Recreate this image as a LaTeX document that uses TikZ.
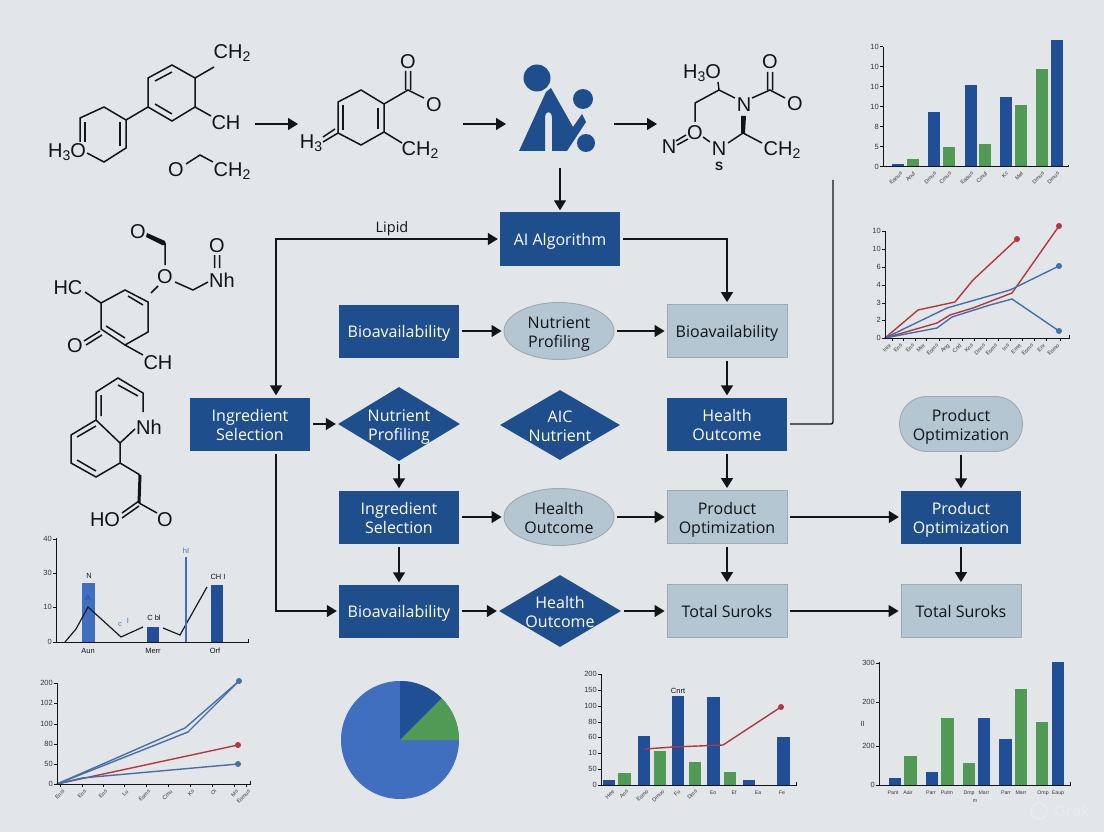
\documentclass[tikz,border=0pt]{standalone}
\usepackage{fontspec}
\setmainfont{Open Sans}
\newfontfamily\chem{Liberation Sans}
\usetikzlibrary{shapes.geometric,arrows.meta}
\definecolor{bgc}{HTML}{E2E6E8}
\definecolor{navy}{HTML}{1F4E8C}
\definecolor{pale}{HTML}{B4C6D2}
\definecolor{paleedge}{HTML}{9DA9B1}
\definecolor{barblue}{HTML}{204F98}
\definecolor{bargreen}{HTML}{519A55}
\definecolor{midblue}{HTML}{3F6FBE}
\definecolor{linered}{HTML}{B5363F}
\definecolor{lineblue}{HTML}{456FA8}
\definecolor{ink}{HTML}{111418}
\newcount\labc
\newcommand{\lab}[4][]{\global\advance\labc by 1 \node[inner sep=0pt,#1] (lab\the\labc) at (#2,#3) {#4};}
\newcommand{\subt}[1]{\raisebox{-.3ex}{\fontsize{14}{14}\selectfont #1}}
\newcommand{\mol}[3]{\lab[font=\chem\fontsize{20}{20}\selectfont,text=ink]{#1}{#2}{#3}}
\newcommand{\cbar}[5]{\fill[#5] (#1,#3) rectangle (#2,#4);}
\newcommand{\tk}[3]{\lab[anchor=north east,rotate=45,font=\chem\fontsize{5.5}{5.5}\selectfont,text=ink!85]{#1}{#2}{#3}}
\newcommand{\yl}[3]{\lab[anchor=east,font=\chem\fontsize{7.5}{7.5}\selectfont,text=ink!85]{#1}{#2}{#3}}
\newcommand{\tw}[2]{\raisebox{-0.5pt}[0pt][0pt]{\begin{tabular}{@{}c@{}}#1\\#2\end{tabular}}}
\tikzset{
  x=1pt,y=-1pt,
  flow text/.style={font=\fontsize{16}{19}\selectfont,execute at begin node={\rule{0pt}{19pt}},execute at end node=\strut},
  flowbox/.style={rectangle,minimum width=120pt,minimum height=53pt,inner sep=0pt,flow text},
  blue box/.style={flowbox,fill=navy,text=white},
  pale box/.style={flowbox,fill=pale,draw=paleedge,line width=.9pt,text=ink},
  blue dia/.style={diamond,aspect=1.65,inner sep=-20pt,fill=navy,text=white,flow text},
  pale ell/.style={ellipse,inner sep=-10pt,fill=pale,draw=paleedge,line width=.9pt,text=ink,flow text,minimum width=110pt,minimum height=57pt},
  pale pill/.style={rectangle,rounded corners=27pt,minimum width=123pt,minimum height=55pt,inner sep=0pt,fill=pale,draw=paleedge,line width=.9pt,text=ink,flow text},
  link/.style={draw=ink,line width=1.4pt,-{Triangle[length=10pt,width=12pt]},shorten <=3pt,shorten >=2pt},
  plain link/.style={draw=ink,line width=1.4pt,shorten <=3pt},
  bond/.style={draw=ink,line width=1.5pt,line join=miter},
  axisl/.style={draw=ink,line width=1pt},
  ser/.style={line width=1.4pt,line join=round},
}
\begin{document}
\begin{tikzpicture}
\useasboundingbox (0,0) rectangle (1104,832);
\fill[bgc] (0,0) rectangle (1104,832);

% ---- flow nodes
\node[blue box] (ai) at (560,239) {AI Algorithm};
\node[blue box] (bio1) at (399,331) {Bioavailability};
\node[pale ell] (prof1) at (559,331) {\tw{Nutrient}{Profiling}};
\node[pale box] (bio2) at (727,331) {Bioavailability};
\node[blue box] (ing1) at (250,424) {\tw{Ingredient}{Selection}};
\node[blue dia,minimum width=122pt,minimum height=74pt] (prof2) at (399,424) {\tw{Nutrient}{Profiling}};
\node[blue dia,minimum width=120pt,minimum height=70pt] (aic) at (560,425) {\tw{AIC}{Nutrient}};
\node[blue box] (health1) at (727,424) {\tw{Health}{Outcome}};
\node[pale pill] (opt0) at (961,424) {\tw{Product}{Optimization}};
\node[blue box] (ing2) at (399,517) {\tw{Ingredient}{Selection}};
\node[pale ell] (health2) at (559,517) {\tw{Health}{Outcome}};
\node[pale box] (opt1) at (727,517) {\tw{Product}{Optimization}};
\node[blue box] (opt2) at (961,517) {\tw{Product}{Optimization}};
\node[blue box] (bio3) at (399,611) {Bioavailability};
\node[blue dia,minimum width=122pt,minimum height=72pt] (health3) at (560,611) {\tw{Health}{Outcome}};
\node[pale box] (tot1) at (727,611) {Total Suroks};
\node[pale box] (tot2) at (961,611) {Total Suroks};

% ---- free ends
\coordinate (m1e) at (252,124);
\coordinate (m2w) at (300,124);
\coordinate (m2e) at (460,124);
\coordinate (lgw) at (508,124);
\coordinate (lge) at (611,124);
\coordinate (m3w) at (659,124);
\coordinate (lgs) at (560,165);
\coordinate (upend) at (833,180);
\coordinate (lip) at (276,239);

% ---- connectors
\draw[link] (m1e) -- (m2w);
\draw[link] (m2e) -- (lgw);
\draw[link] (lge) -- (m3w);
\draw[link] (lgs) -- (ai);
\draw[link,{Triangle[length=10pt,width=12pt]}-{Triangle[length=10pt,width=12pt]},shorten <=2pt] (ing1.north -| lip) -- (lip) -- (ai.west);
\lab[font=\fontsize{14.5}{16}\selectfont,text=ink]{392}{229}{Lipid}
\draw[link] (ai.east) -| (bio2.north);
\draw[link] (bio1) -- (prof1);
\draw[link] (prof1) -- (bio2);
\draw[link] (bio2) -- (health1);
\draw[plain link,rounded corners=2pt] (health1.east) -- (health1.east -| upend) -- (upend);
\draw[link] (ing1) -- (prof2);
\draw[link] (prof2) -- (ing2);
\draw[link] (ing2) -- (bio3);
\draw[link] (ing1.south -| lip) -- (bio3.west -| lip) -- (bio3.west);
\draw[link] (ing2) -- (health2);
\draw[link] (health2) -- (opt1);
\draw[link] (opt1) -- (opt2);
\draw[link] (health1) -- (opt1);
\draw[link] (opt1) -- (tot1);
\draw[link] (opt0) -- (opt2);
\draw[link] (opt2) -- (tot2);
\draw[link] (bio3) -- (health3);
\draw[link] (health3) -- (tot1);
\draw[link] (tot1) -- (tot2);

% ---- logo
\fill[navy] (537,78) circle (13.5);
\fill[navy] (583,99) circle (10);
\fill[navy] (586,143) circle (9);
\fill[navy] (519,151) -- (546,92) -- (551,88) -- (573,127) -- (582,114) -- (586,122) -- (567,151) -- (552,151) -- (552,118) .. controls (552,110) and (545,110) .. (545,118) -- (545,151) -- cycle;

% ---- molecule 1
\draw[bond] (148,78) -- (172,65) -- (195,78) -- (195,107) -- (172,121) -- (148,107) -- cycle;
\draw[bond] (155,81) -- (172,72) (155,104) -- (172,114);
\draw[bond] (195,78) -- (214,67) (195,107) -- (211,116) (148,107) -- (126,120);
\draw[bond] (80,142) -- (80,118) -- (104,107) -- (126,120) -- (126,148) -- (104,162) -- (87,153);
\draw[bond] (85,122) -- (85,142) (120,122) -- (120,146);
\draw[bond] (186,164) -- (200,155) -- (213,162);
\mol{232}{53}{CH\subt{2}}
\mol{226}{123}{CH}
\mol{67}{152}{H\subt{3}O}
\mol{176}{170}{O}
\mol{232}{171}{CH\subt{2}}

% ---- molecule 2
\draw[bond] (338,133) -- (338,102) -- (361,90) -- (384,104) -- (384,132) -- (361,145) -- cycle;
\draw[bond] (343,105) -- (343,130) (378,108) -- (378,129);
\draw[bond] (384,104) -- (408,90) -- (424,98) (405.5,90) -- (405.5,71) (410.5,90) -- (410.5,71) (384,132) -- (402,143);
\draw[bond] (338,133) -- (323,142) (335,129) -- (323,137);
\mol{408}{62}{O}
\mol{434}{105}{O}
\mol{420}{150}{CH\subt{2}}
\mol{311}{143}{H\subt{3}}

% ---- molecule 3
\draw[bond] (718,82) -- (719,90) -- (695,103) -- (695,122);
\draw[bond] (719,90) -- (735,98) (752,98) -- (770,90) -- (785,98) (767.5,90) -- (767.5,72) (772.5,90) -- (772.5,72);
\draw[bond] (703,137) -- (710,142) (728,143) -- (743,133) -- (762,143);
\draw[bond] (677,145) -- (688,139) (676,141) -- (686,135);
\fill[ink] (741,133) -- (743,134) -- (745,133) -- (746,116) -- (741,116) -- cycle;
\mol{702}{73}{H\subt{3}O}
\mol{770}{62}{O}
\mol{795}{104}{O}
\mol{695}{133}{O}
\mol{744}{105}{N}
\mol{669}{147}{N}
\mol{719}{149}{N}
\mol{782}{150}{CH\subt{2}}
\lab[font=\chem\bfseries\fontsize{12}{12}\selectfont,text=ink]{719}{166}{S}

% ---- molecule 4
\draw[bond] (101,303) -- (125,290) -- (148,302) -- (148,332) -- (125,345) -- (101,329) -- cycle;
\draw[bond] (128,296) -- (143,305) (106,326) -- (125,338);
\draw[bond] (85,292) -- (101,303) (125,345) -- (143,355) (151,293) -- (158,286);
\draw[bond] (84,341) -- (100,331) (86,345) -- (102,335);
\draw[bond] (165,243) -- (165,265) (175,282) -- (193,290) -- (208,282) (214.5,255) -- (214.5,268) (219.5,255) -- (219.5,268);
\fill[ink] (147,233) -- (165,241) -- (166,245) -- (162,245) -- (146,237) -- cycle;
\mol{138}{232}{O}
\mol{165}{277}{O}
\mol{222}{280}{Nh}
\mol{217}{246}{O}
\mol{68}{288}{HC}
\mol{75}{346}{O}
\mol{158}{363}{CH}

% ---- molecule 5
\draw[bond] (96,420) -- (96,392) -- (118,378) -- (143,393) -- (143,412) (96,420) -- (71,435) -- (71,463) -- (96,477) -- (120,463) -- (120,443) -- (96,420) (120,443) -- (135,429);
\draw[bond] (101,395) -- (101,416) (118,385) -- (138,396) (77,437) -- (96,426) (77,460) -- (96,471);
\draw[bond] (120,463) -- (140,475);
\fill[ink] (138.5,475) -- (141.5,475) -- (140.5,503) -- (137.5,503) -- cycle;
\draw[bond] (139,503) -- (157,513) (139,501) -- (122,513) (139,506) -- (122,518);
\mol{149}{427}{Nh}
\mol{105}{520}{HO}
\mol{165}{520}{O}

% ---- chart: top right bars
\cbar{892}{904}{164}{167}{barblue}
\cbar{907}{919}{159}{167}{bargreen}
\cbar{928}{940}{112}{167}{barblue}
\cbar{943}{955}{147}{167}{bargreen}
\cbar{965}{977}{85}{167}{barblue}
\cbar{979}{991}{144}{167}{bargreen}
\cbar{1000}{1012}{97}{167}{barblue}
\cbar{1015}{1027}{105}{167}{bargreen}
\cbar{1036}{1048}{69}{167}{bargreen}
\cbar{1051}{1063}{40}{167}{barblue}
\draw[axisl] (883,47) -- (883,167) -- (1068,167) -- (1068,165);
\foreach \yy/\tt in {47/10,67/10,87/10,107/10,127/8,147/5,167/0}{
  \draw[axisl] (880,\yy) -- (883,\yy);
  \yl{879}{\yy}{\tt}
}
\foreach \xx/\tt in {900/Eanus,913/Anvf,934/Dmus,949/Cmus,971/Eaaus,985/Cmuf,1006/Kc,1021/Mef,1042/Dmus,1057/Dmus}{
  \tk{\xx}{171}{\tt}
}

% ---- chart: top right lines
\draw[ser,linered] (885,338) -- (918,310) -- (955,302) -- (973,280) -- (1017,239);
\fill[linered] (1017,239) circle (3);
\draw[ser,linered] (885,338) -- (937,323) -- (950,315) -- (973,308) -- (1012,293) -- (1059,226);
\fill[linered] (1059,226) circle (3);
\draw[ser,lineblue] (885,338) -- (918,322) -- (947,308) -- (1010,290) -- (1059,266);
\fill[lineblue] (1059,266) circle (3);
\draw[ser,lineblue] (885,338) -- (937,328) -- (952,317) -- (990,305) -- (1012,299) -- (1059,331);
\fill[lineblue] (1059,331) circle (3);
\draw[axisl] (885,231) -- (885,338) -- (1069,338) -- (1069,335);
\foreach \yy/\tt in {231/10,249/10,267/6,285/4,303/3,320/2,338/0}{
  \draw[axisl] (882,\yy) -- (885,\yy);
  \yl{881}{\yy}{\tt}
}
\foreach \xx/\tt in {889/Inor,900/Ens,912/Ens,923/Mer,936/Esms,947/Ang,959/Cnd,971/Kns,983/Dnns,995/Esms,1007/Ins,1019/Emrt,1031/Esms,1043/Enr,1057/Esmo}{
  \draw[axisl] (\xx+3,338) -- (\xx+3,341);
  \tk{\xx}{343}{\tt}
}

% ---- chart: left combo
\cbar{82}{95}{583}{642}{midblue}
\cbar{147}{159}{627}{642}{barblue}
\cbar{211}{223}{585}{642}{barblue}
\draw[draw=ink!85!navy,line width=1.2pt] (65,642) -- (76,629) -- (88,607) -- (121,637) -- (143,627);
\draw[draw=ink!85!navy,line width=1.2pt] (163,628) -- (180,635) -- (207,587);
\draw[draw=midblue,line width=1.2pt] (186,642) -- (186,557);
\draw[axisl] (56,538) -- (56,642) -- (248,642) -- (248,639);
\foreach \yy/\tt in {539/40,573/30,607/10,642/0}{
  \draw[axisl] (53,\yy) -- (56,\yy);
  \yl{52}{\yy}{\tt}
}
\newcommand{\cl}[4][ink]{\lab[font=\chem\fontsize{7.5}{7.5}\selectfont,text=#1]{#2}{#3}{#4}}
\cl{89}{576}{N}
\cl[navy]{88}{598}{A}
\cl[midblue]{120}{625}{c}
\cl[midblue]{128}{621}{I}
\cl{154}{618}{C bl}
\cl[midblue]{186}{551}{hI}
\cl{218}{577}{CH I}
\cl{88}{651}{Aun}
\cl{153}{651}{Merr}
\cl{215}{651}{Orf}

% ---- chart: lower left lines
\draw[ser,lineblue] (57,784) -- (185,728) -- (239,681);
\draw[ser,lineblue] (57,784) -- (188,732) -- (239,681);
\fill[lineblue] (239,681) circle (3);
\draw[ser,linered] (57,784) -- (238,745);
\fill[linered] (238,745) circle (3);
\draw[ser,lineblue] (57,784) -- (82,778) -- (238,764);
\fill[lineblue] (238,764) circle (3);
\draw[axisl] (57,683) -- (57,784) -- (250,784) -- (250,781);
\foreach \yy/\tt in {683/200,703/102,724/100,744/80,764/50,784/0}{
  \draw[axisl] (54,\yy) -- (57,\yy);
  \yl{53}{\yy}{\tt}
}
\foreach \xx/\tt in {62/Ensi,84/Ens,105/Ens,126/Lu,148/Esms,170/Cmu,192/Ks,214/Oi,236/Ms,248/Esmus}{
  \draw[axisl] (\xx-2,784) -- (\xx-2,787);
  \tk{\xx}{789}{\tt}
}

% ---- pie
\fill[midblue] (400,740) circle (59);
\fill[barblue] (400,740) -- (400,681) arc[start angle=-90,end angle=-45,radius=59] -- cycle;
\fill[bargreen] (400,740) -- (441.7,698.3) arc[start angle=-45,end angle=0,radius=59] -- cycle;

% ---- chart: bottom middle
\cbar{603}{615}{780}{785}{barblue}
\cbar{618}{631}{773}{785}{bargreen}
\cbar{638}{650}{736}{785}{barblue}
\cbar{654}{666}{751}{785}{bargreen}
\cbar{672}{684}{696}{785}{barblue}
\cbar{689}{701}{762}{785}{bargreen}
\cbar{707}{720}{697}{785}{barblue}
\cbar{724}{736}{772}{785}{bargreen}
\cbar{743}{755}{780}{785}{barblue}
\cbar{777}{790}{737}{785}{barblue}
\draw[ser,linered] (645,749) -- (673,747) -- (723,745) -- (781,707);
\fill[linered] (781,707) circle (3);
\draw[axisl] (601,674) -- (601,785) -- (796,785) -- (796,782);
\foreach \yy/\tt in {674/200,690/150,706/100,722/80,737/60,753/10,769/50,785/0}{
  \draw[axisl] (598,\yy) -- (601,\yy);
  \yl{597}{\yy}{\tt}
}
\foreach \xx/\tt in {612/Hee,626/Ans,646/Esmo,662/Dmuo,678/Fu,695/Dms}{
  \tk{\xx}{789}{\tt}
}
\newcommand{\tks}[3]{\lab[font=\chem\fontsize{5.2}{5.2}\selectfont,text=ink!85]{#1}{#2}{#3}}
\tks{713}{793}{Eo}
\tks{734}{793}{Ef}
\tks{758}{793}{Ea}
\tks{782}{793}{Fe}
\cl{678}{691}{Cnrt}

% ---- chart: bottom right
\cbar{889}{901}{778}{785}{barblue}
\cbar{904}{917}{756}{785}{bargreen}
\cbar{926}{938}{772}{785}{barblue}
\cbar{941}{954}{718}{785}{bargreen}
\cbar{963}{975}{763}{785}{bargreen}
\cbar{978}{990}{718}{785}{barblue}
\cbar{999}{1012}{739}{785}{barblue}
\cbar{1015}{1027}{689}{785}{bargreen}
\cbar{1036}{1048}{722}{785}{bargreen}
\cbar{1052}{1064}{662}{785}{barblue}
\draw[axisl] (879,662) -- (879,785) -- (1070,785) -- (1070,782);
\foreach \yy/\tt in {663/300,702/200,746/200,785/0}{
  \draw[axisl] (876,\yy) -- (879,\yy);
  \yl{875}{\yy}{\tt}
}
\yl{865}{724}{II}
\foreach \xx/\tt in {893/Pant,908/Aair,931/Parr,947/Putm,969/Dmp,984/Marr,1006/Parr,1021/Marr,1043/Omp,1058/Eaup}{
  \tks{\xx}{793}{\tt}
}
\tks{975}{801}{m}

% ---- faint watermark
\draw[white,opacity=.22,line width=2pt] (1039,811) circle (8);
\lab[font=\chem\bfseries\fontsize{15}{15}\selectfont,text=white,opacity=.22]{1072}{811}{Grok}
\end{tikzpicture}
\end{document}
